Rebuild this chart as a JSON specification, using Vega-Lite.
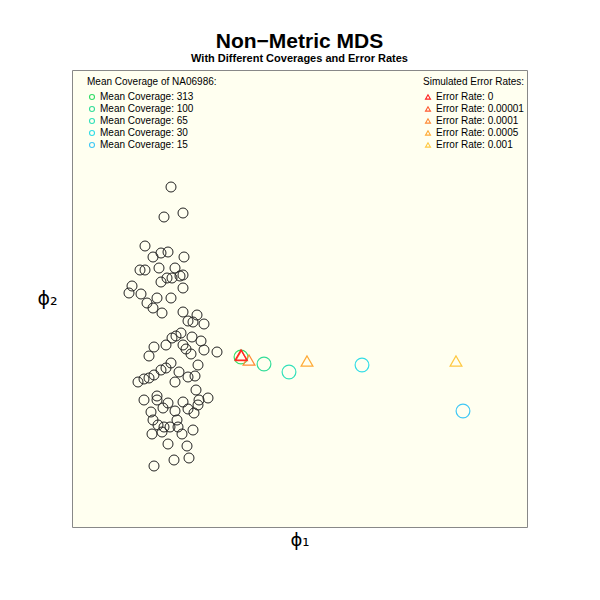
{
  "$schema": "https://vega.github.io/schema/vega-lite/v6.json",
  "autosize": {"type": "none"},
  "padding": {"left": 72, "top": 70, "right": 73, "bottom": 73},
  "width": 455,
  "height": 457,
  "background": "white",
  "title": {
    "text": "Non−Metric MDS",
    "subtitle": "With Different Coverages and Error Rates",
    "font": "Liberation Sans",
    "fontSize": 21,
    "fontWeight": "bold",
    "color": "black",
    "subtitleFont": "Liberation Sans",
    "subtitleFontSize": 11,
    "subtitleFontWeight": "bold",
    "subtitleColor": "black",
    "subtitlePadding": 1,
    "anchor": "middle",
    "offset": 6
  },
  "config": {
    "view": {"fill": "#FFFFF0", "stroke": "#888888", "strokeWidth": 1},
    "legend": {
      "orient": "none",
      "padding": 0,
      "titleFont": "Liberation Sans",
      "titleFontSize": 10,
      "titleFontWeight": "normal",
      "titleColor": "black",
      "titlePadding": 5,
      "labelFont": "Liberation Sans",
      "labelFontSize": 10,
      "labelColor": "black",
      "rowPadding": 2,
      "labelOffset": 3,
      "symbolSize": 25,
      "symbolStrokeWidth": 1.1,
      "symbolFillColor": "transparent"
    }
  },
  "encoding": {
    "x": {"field": "phi1", "type": "quantitative", "scale": {"domain": [72, 527], "nice": false, "zero": false},
      "axis": {"title": "ϕ₁", "titleFont": "DejaVu Sans", "titleFontSize": 18, "titleFontWeight": "normal", "titleColor": "black", "domain": false, "ticks": false, "labels": false, "grid": false, "titlePadding": 4}},
    "y": {"field": "phi2", "type": "quantitative", "scale": {"domain": [73, 530], "nice": false, "zero": false},
      "axis": {"title": "ϕ₂", "titleFont": "DejaVu Sans", "titleFontSize": 19, "titleFontWeight": "normal", "titleColor": "black", "titleAngle": 0, "titleX": -25, "titleY": 228, "titleAlign": "center", "titleBaseline": "middle", "domain": false, "ticks": false, "labels": false, "grid": false}}
  },
  "layer": [
    {
      "data": {"values": [
        {"phi1": 171, "phi2": 413}, {"phi1": 164, "phi2": 383}, {"phi1": 183, "phi2": 387}, {"phi1": 145, "phi2": 354},
        {"phi1": 153, "phi2": 343}, {"phi1": 161, "phi2": 347}, {"phi1": 168, "phi2": 348}, {"phi1": 184, "phi2": 343},
        {"phi1": 140, "phi2": 330}, {"phi1": 145, "phi2": 330}, {"phi1": 159, "phi2": 332}, {"phi1": 175, "phi2": 332},
        {"phi1": 183, "phi2": 325}, {"phi1": 180, "phi2": 324}, {"phi1": 172, "phi2": 322}, {"phi1": 167, "phi2": 322},
        {"phi1": 161, "phi2": 318}, {"phi1": 132, "phi2": 314}, {"phi1": 129, "phi2": 307}, {"phi1": 141, "phi2": 306},
        {"phi1": 183, "phi2": 312}, {"phi1": 157, "phi2": 302}, {"phi1": 171, "phi2": 302}, {"phi1": 147, "phi2": 297},
        {"phi1": 153, "phi2": 292}, {"phi1": 162, "phi2": 287}, {"phi1": 183, "phi2": 288}, {"phi1": 197, "phi2": 285},
        {"phi1": 188, "phi2": 279}, {"phi1": 193, "phi2": 278}, {"phi1": 204, "phi2": 276}, {"phi1": 181, "phi2": 267},
        {"phi1": 176, "phi2": 264}, {"phi1": 172, "phi2": 262}, {"phi1": 192, "phi2": 263}, {"phi1": 201, "phi2": 259},
        {"phi1": 166, "phi2": 255}, {"phi1": 183, "phi2": 255}, {"phi1": 154, "phi2": 253}, {"phi1": 186, "phi2": 251},
        {"phi1": 204, "phi2": 250}, {"phi1": 217, "phi2": 248}, {"phi1": 191, "phi2": 246}, {"phi1": 149, "phi2": 244},
        {"phi1": 171, "phi2": 237}, {"phi1": 198, "phi2": 235}, {"phi1": 161, "phi2": 230}, {"phi1": 166, "phi2": 232},
        {"phi1": 179, "phi2": 228}, {"phi1": 154, "phi2": 225}, {"phi1": 149, "phi2": 222}, {"phi1": 144, "phi2": 221},
        {"phi1": 138, "phi2": 218}, {"phi1": 188, "phi2": 223}, {"phi1": 195, "phi2": 224}, {"phi1": 175, "phi2": 218},
        {"phi1": 196, "phi2": 210}, {"phi1": 157, "phi2": 204}, {"phi1": 144, "phi2": 200}, {"phi1": 157, "phi2": 200},
        {"phi1": 168, "phi2": 197}, {"phi1": 183, "phi2": 198}, {"phi1": 199, "phi2": 200}, {"phi1": 208, "phi2": 202},
        {"phi1": 163, "phi2": 192}, {"phi1": 188, "phi2": 191}, {"phi1": 198, "phi2": 195}, {"phi1": 151, "phi2": 188},
        {"phi1": 175, "phi2": 189}, {"phi1": 194, "phi2": 187}, {"phi1": 153, "phi2": 180}, {"phi1": 177, "phi2": 180},
        {"phi1": 158, "phi2": 175}, {"phi1": 164, "phi2": 173}, {"phi1": 170, "phi2": 173}, {"phi1": 178, "phi2": 173},
        {"phi1": 152, "phi2": 166}, {"phi1": 162, "phi2": 168}, {"phi1": 182, "phi2": 166}, {"phi1": 193, "phi2": 170},
        {"phi1": 168, "phi2": 156}, {"phi1": 187, "phi2": 154}, {"phi1": 174, "phi2": 140}, {"phi1": 189, "phi2": 142},
        {"phi1": 154, "phi2": 134}
      ]},
      "mark": {"type": "point", "shape": "circle", "filled": false, "size": 100, "stroke": "#222222", "strokeWidth": 1, "opacity": 1}
    },
    {
      "data": {"values": [
        {"phi1": 241, "phi2": 243, "coverage": "313"},
        {"phi1": 264, "phi2": 236, "coverage": "100"},
        {"phi1": 289, "phi2": 228, "coverage": "65"},
        {"phi1": 362, "phi2": 235, "coverage": "30"},
        {"phi1": 463, "phi2": 189, "coverage": "15"}
      ]},
      "mark": {"type": "point", "shape": "circle", "filled": false, "size": 190, "strokeWidth": 1.2, "opacity": 1},
      "encoding": {
        "color": {"field": "coverage", "type": "nominal",
          "scale": {"domain": ["313", "100", "65", "30", "15"], "range": ["#33DD66", "#33DD99", "#33E0BB", "#33DDE6", "#40C8F5"]},
          "legend": {"title": "Mean Coverage of NA06986:", "legendX": 15, "legendY": 7, "symbolType": "circle", "labelExpr": "'Mean Coverage: ' + datum.label"}}
      }
    },
    {
      "data": {"values": [
        {"phi1": 456, "phi2": 239, "error": "0.001"},
        {"phi1": 307, "phi2": 239, "error": "0.0005"},
        {"phi1": 249, "phi2": 240, "error": "0.0001"},
        {"phi1": 241.5, "phi2": 244.5, "error": "0.00001"},
        {"phi1": 241, "phi2": 245, "error": "0"}
      ]},
      "mark": {"type": "point", "shape": "triangle-up", "filled": false, "size": 140, "strokeWidth": 1.2, "opacity": 1},
      "encoding": {
        "color": {"field": "error", "type": "nominal",
          "scale": {"domain": ["0", "0.00001", "0.0001", "0.0005", "0.001"], "range": ["#FF2020", "#FF5A30", "#FF8A35", "#FFAA35", "#FFC840"]},
          "legend": {"title": "Simulated Error Rates:", "legendX": 351, "legendY": 7, "symbolType": "triangle-up", "labelExpr": "'Error Rate: ' + datum.label"}}
      }
    }
  ],
  "resolve": {"scale": {"color": "independent"}, "legend": {"color": "independent"}}
}
